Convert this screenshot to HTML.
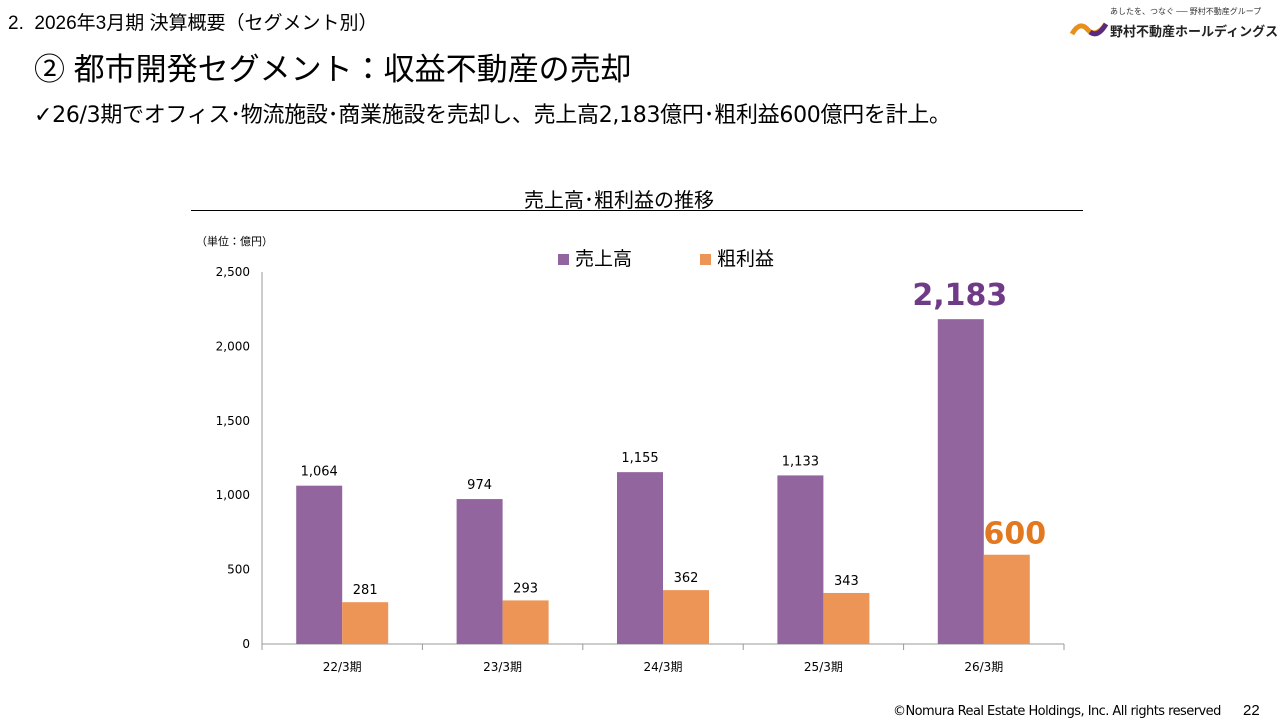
<!DOCTYPE html>
<html><head><meta charset="utf-8">
<style>
body{margin:0;width:1280px;height:720px;background:#fff;font-family:"Liberation Sans","Noto Sans CJK JP",sans-serif;overflow:hidden;position:relative;color:#000}
.abs{position:absolute;white-space:nowrap}
</style></head><body>
<div class="abs" style="left:8px;top:8px;font-size:19px">2.&nbsp;&nbsp;2026年3月期 決算概要（セグメント別）</div>
<div class="abs" style="left:34px;top:44px;font-size:31px">② 都市開発セグメント：収益不動産の売却</div>
<div class="abs" style="left:34px;top:97px;font-size:22px;font-family:'DejaVu Sans','Noto Sans CJK JP',sans-serif;letter-spacing:-0.3px">✓26/3期でオフィス･物流施設･商業施設を売却し、売上高2,183億円･粗利益600億円を計上。</div>
<div class="abs" style="left:1070px;top:6px;width:200px;height:34px">
 <div class="abs" style="left:40px;top:0;font-size:8px;color:#333">あしたを、つなぐ ── 野村不動産グループ</div>
 <svg class="abs" style="left:0;top:14px" width="40" height="20"><path d="M2 14 Q10 0 18 10 Q26 18 36 4" stroke="#e8901e" stroke-width="5" fill="none"/><path d="M20 12 Q28 18 36 4" stroke="#5a2a7e" stroke-width="5" fill="none"/></svg>
 <div class="abs" style="left:40px;top:15px;font-size:13px;font-weight:bold;color:#222">野村不動産ホールディングス</div>
</div>
<div class="abs" style="left:524px;top:184px;font-size:20px">売上高･粗利益の推移</div>
<div class="abs" style="left:191px;top:210px;width:892px;height:1px;background:#000"></div>
<div class="abs" style="left:196px;top:233px;font-size:11px">（単位：億円）</div>
<div class="abs" style="left:558px;top:244px;font-size:19px"><span style="display:inline-block;width:11px;height:11px;background:#93659e;margin-right:6px"></span>売上高</div>
<div class="abs" style="left:700px;top:244px;font-size:19px"><span style="display:inline-block;width:11px;height:11px;background:#ec9556;margin-right:6px"></span>粗利益</div>
<svg id="chart" class="abs" style="left:0;top:0" width="1280" height="720"></svg>
<div class="abs" style="left:893px;top:704px;font-size:13px;font-family:'DejaVu Sans',sans-serif;letter-spacing:-0.55px">©Nomura Real Estate Holdings, Inc. All rights reserved</div>
<div class="abs" style="left:1243px;top:702px;font-size:15px">22</div>
<script>
const categories=["22/3期","23/3期","24/3期","25/3期","26/3期"];
const sales=[1064,974,1155,1133,2183];
const profit=[281,293,362,343,600];
const ticks=[0,500,1000,1500,2000,2500];
const svg=document.getElementById('chart');
const NS='http://www.w3.org/2000/svg';
const X0=262,X1=1064,Y0=644,YT=272,MAX=2500;
const y=v=>Y0-(Y0-YT)*v/MAX;
const cw=(X1-X0)/categories.length;
const cx=i=>X0+cw*(i+0.5);
const F='DejaVu Sans, Noto Sans CJK JP, sans-serif';
function mk(t,a,txt){const e=document.createElementNS(NS,t);for(const k in a)e.setAttribute(k,a[k]);if(txt!=null)e.textContent=txt;svg.appendChild(e);return e;}
const fmt=v=>v.toLocaleString('en-US');
let e=mk('line',{x1:X0,y1:YT,x2:X0,y2:Y0,stroke:'#999'});


e=mk('line',{x1:X0,y1:Y0,x2:X1,y2:Y0,stroke:'#999'});


ticks.forEach(t=>{
 e=mk('text',{x:X0-12,y:y(t)+4,'text-anchor':'end','font-size':12,'font-family':F},fmt(t));
 
 
});
for(let i=0;i<=categories.length;i++){
 e=mk('line',{x1:X0+cw*i,y1:Y0,x2:X0+cw*i,y2:Y0+6,stroke:'#999'});
 
 
}
const bw=46;
categories.forEach((c,i)=>{
 const last=i===categories.length-1;
 e=mk('rect',{x:cx(i)-bw,y:y(sales[i]),width:bw,height:Y0-y(sales[i]),fill:'#93659e'});
 
 
 e=mk('rect',{x:cx(i),y:y(profit[i]),width:bw,height:Y0-y(profit[i]),fill:'#ec9556'});
 
 
 if(last){
  e=mk('text',{x:cx(i)-bw/2-1,y:y(sales[i])-14,'text-anchor':'middle','font-size':30,'font-weight':'bold',fill:'#6f3a86','font-family':F},fmt(sales[i]));
  
  
  e=mk('text',{x:cx(i)+bw/2+8,y:y(profit[i])-11,'text-anchor':'middle','font-size':30,'font-weight':'bold',fill:'#e2781f','font-family':F},fmt(profit[i]));
  
  
 }else{
  e=mk('text',{x:cx(i)-bw/2,y:y(sales[i])-10,'text-anchor':'middle','font-size':13,'font-family':F},fmt(sales[i]));
  
  
  e=mk('text',{x:cx(i)+bw/2,y:y(profit[i])-8,'text-anchor':'middle','font-size':13,'font-family':F},fmt(profit[i]));
  
  
 }
 e=mk('text',{x:cx(i),y:Y0+27,'text-anchor':'middle','font-size':12,'font-family':F},c);
 
 
});
</script>
</body></html>
